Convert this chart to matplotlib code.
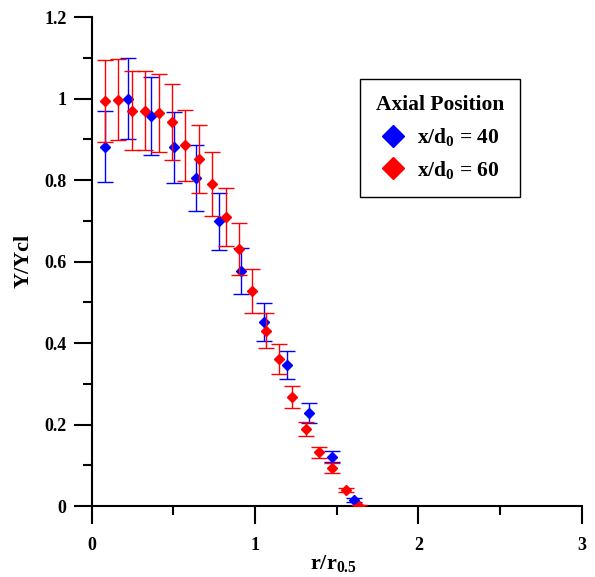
import matplotlib
matplotlib.use("Agg")
import matplotlib.pyplot as plt
from matplotlib.lines import Line2D
from matplotlib.ticker import MultipleLocator

plt.rcParams['font.family'] = ['Liberation Serif', 'DejaVu Serif']
plt.rcParams['font.weight'] = 'bold'
plt.rcParams['mathtext.fontset'] = 'custom'
plt.rcParams['mathtext.rm'] = 'Liberation Serif:bold'
plt.rcParams['mathtext.it'] = 'Liberation Serif:bold'
plt.rcParams['mathtext.bf'] = 'Liberation Serif:bold'

# x/d0 = 40
r40 = [0.082, 0.223, 0.362, 0.502, 0.637, 0.779, 0.915, 1.054, 1.194, 1.330, 1.471, 1.605]
y40 = [0.882, 1.000, 0.958, 0.880, 0.806, 0.699, 0.577, 0.452, 0.346, 0.228, 0.121, 0.015]
e40 = [0.088, 0.100, 0.096, 0.088, 0.081, 0.070, 0.057, 0.046, 0.035, 0.024, 0.013, 0.004]

# x/d0 = 60
r60 = [0.082, 0.163, 0.245, 0.329, 0.410, 0.493, 0.573, 0.655, 0.737, 0.822,
       0.899, 0.980, 1.066, 1.147, 1.227, 1.310, 1.390, 1.473, 1.555, 1.636]
y60 = [0.994, 0.997, 0.970, 0.970, 0.964, 0.942, 0.885, 0.851, 0.790, 0.710,
       0.631, 0.527, 0.430, 0.360, 0.267, 0.189, 0.132, 0.093, 0.039, 0.000]
e60 = [0.100, 0.100, 0.097, 0.097, 0.095, 0.094, 0.088, 0.084, 0.079, 0.071,
       0.063, 0.054, 0.043, 0.037, 0.027, 0.018, 0.013, 0.012, 0.005, 0.003]

labels = [r'x/d$_0$ = 40', r'x/d$_0$ = 60']
colors = ['#0000ff', '#ff0000']

fig = plt.figure(figsize=(5.95, 5.77), dpi=100)
ax = fig.add_axes([0.154, 0.123, 0.824, 0.8475])

ax.errorbar(r40, y40, yerr=e40, fmt='D', color=colors[0], ms=4.7,
            elinewidth=1, capsize=6, capthick=1, zorder=3)
ax.errorbar(r60, y60, yerr=e60, fmt='D', color=colors[1], ms=4.7,
            elinewidth=1, capsize=6, capthick=1, zorder=4)

ax.set_xlim(0, 3)
ax.set_ylim(0, 1.2)
ax.xaxis.set_major_locator(MultipleLocator(1))
ax.xaxis.set_minor_locator(MultipleLocator(0.5))
ax.yaxis.set_minor_locator(MultipleLocator(0.1))
ax.set_yticks([0, 0.2, 0.4, 0.6, 0.8, 1.0, 1.2])
ax.set_yticklabels(['0', '0.2', '0.4', '0.6', '0.8', '1', '1.2'])

for s in ['top', 'right']:
    ax.spines[s].set_visible(False)
for s in ['left', 'bottom']:
    ax.spines[s].set_linewidth(1.5)
ax.tick_params(which='major', direction='out', length=13, width=1.5, labelsize=13)
ax.tick_params(which='minor', direction='out', length=6.5, width=1.5)
ax.tick_params(axis='x', which='major', pad=9)
ax.tick_params(axis='y', which='major', pad=5)

ax.set_xlabel(r'r/r$_{0.5}$', fontsize=16, fontweight='bold')
ax.xaxis.set_label_coords(0.494, -0.097)
ax.set_ylabel('Y/Ycl', fontsize=16, fontweight='bold')
ax.yaxis.set_label_coords(-0.119, 0.502)

handles = [Line2D([], [], ls='', marker='D', color=c, ms=11.5) for c in colors]
leg = ax.legend(handles, labels, title='Axial Position', loc='upper left',
                bbox_to_anchor=(0.547, 0.873), borderaxespad=0, fancybox=False,
                edgecolor='black', framealpha=1, fontsize=15.5, title_fontsize=15.5,
                handletextpad=0.5, borderpad=0.75, labelspacing=0.5, handlelength=1.2)
leg.get_title().set_fontweight('bold')
leg.get_frame().set_linewidth(1.0)

fig.savefig('out.png', dpi=100)
